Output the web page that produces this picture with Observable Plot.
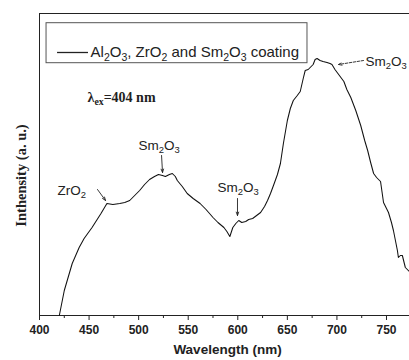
<!DOCTYPE html>
<html><head><meta charset="utf-8">
<script src="https://cdn.jsdelivr.net/npm/d3@7"></script>
<script src="https://cdn.jsdelivr.net/npm/@observablehq/plot@0.6"></script>
<style>
body{margin:0;background:#fff}
svg{display:block}
</style>
</head><body><div id="chart"></div>
<script>
// Spectrum, intensity in arbitrary units
const wavelength = [420,425,433,440,445,453,462,468,474,481,486,491,496,501,506,511,516,520,524,527,531,534,537,539,544,549,555,562,568,575,580,586,589,592,595,598,601,604,608,611,615,619,623,627,630,633,636,640,643,646,650,653,656,660,663,666,668,671,673,676,678,680,683,686,690,693,695,698,701,704,707,710,714,719,724,728,731,734,737,740,744,747,750,752,755,757,759,761,762,764,766,768,769,771,773];
const intensity  = [0,25,52,68,77,88,102,112,111,112,113,115,120,125,131,136,139,141,140,139,141,142,139,135,129,122,117,112,106,98,93,88,84,79,88,92,95,93,94,96,97,100,103,109,115,122,130,141,152,172,195,207,215,220,224,237,245,246,248,251,256,257,255,254,253,252,251,246,242,238,234,226,218,205,190,175,165,153,142,138,134,113,107,103,93,85,75,65,58,60,60,52,48,46,44];

const majorTicks = [400,450,500,550,600,650,700,750];
const minorTicks = [425,475,525,575,625,675,725];

const seriesLabel = "Al_2O_3, ZrO_2 and Sm_2O_3 coating";
const excitationLabel = "λ_ex=404 nm";
const xLabel = "Wavelength (nm)";
const yLabel = "Inthensity (a. u.)";

const annoText  = ["ZrO_2", "Sm_2O_3", "Sm_2O_3", "Sm_2O_3"];
const annoX     = [418.2, 499.9, 579.5, 728.8];
const annoY     = [125, 170, 128, 254];
const arrowX1   = [458.5, 523.1, 599.7, 726.8];
const arrowY1   = [126, 160, 117, 255];
const arrowX2   = [466.6, 524.1, 599.7, 701.6];
const arrowY2   = [115, 143, 100, 251];
const arrowDash = [false, false, false, true];

const spectrum = wavelength.map((w, i) => ({w, v: intensity[i]}));
const annos = annoText.map((t, i) => ({t, x: annoX[i], y: annoY[i]}));
const arrows = arrowX1.map((x1, i) => ({x1, y1: arrowY1[i], x2: arrowX2[i], y2: arrowY2[i], dash: arrowDash[i]}));

const SANS = "'Liberation Sans', Arial, sans-serif";
const SERIF = "'Liberation Serif', 'Times New Roman', serif";
const INK = "#222";

const chart = Plot.plot({
  width: 409,
  height: 360,
  marginLeft: 39,
  marginRight: 0,
  marginTop: 13,
  marginBottom: 45,
  style: {fontFamily: SANS, background: "#fff", color: INK},
  x: {domain: [400, 773.2]},
  y: {domain: [0, 302], axis: null},
  marks: [
    Plot.axisX({ticks: majorTicks, tickSize: 5, tickPadding: 5, fontSize: 12, fontWeight: "bold", label: null, stroke: INK, fill: INK, strokeWidth: 1}),
    Plot.axisX({ticks: minorTicks, tickSize: 3, text: null, label: null, stroke: INK, strokeWidth: 1}),
    Plot.ruleX([400], {stroke: INK, strokeWidth: 1}),
    Plot.ruleY([0], {stroke: INK, strokeWidth: 1}),
    Plot.ruleY([302], {stroke: INK, strokeWidth: 1}),
    // legend box
    Plot.rect([{}], {x1: () => 407.1, x2: () => 670.3, y1: () => 252.3, y2: () => 292.3, fill: "none", stroke: "#555", strokeWidth: 1}),
    Plot.ruleY([{}], {y: () => 263, x1: () => 418.2, x2: () => 449.4, stroke: INK, strokeWidth: 1.3}),
    Plot.text([seriesLabel], {x: () => 451.5, y: () => 263, textAnchor: "start", fontSize: 15, fill: INK}),
    // data line
    Plot.line(spectrum, {x: "w", y: "v", stroke: "#111", strokeWidth: 1.05}),
    // annotations
    Plot.text(annos, {x: "x", y: "y", text: "t", textAnchor: "start", fontSize: 13.5, fill: INK}),
    Plot.arrow(arrows.filter(d => !d.dash), {x1: "x1", y1: "y1", x2: "x2", y2: "y2", stroke: INK, strokeWidth: 0.9, headLength: 6, headAngle: 40}),
    Plot.arrow(arrows.filter(d => d.dash), {x1: "x1", y1: "y1", x2: "x2", y2: "y2", stroke: INK, strokeWidth: 0.9, headLength: 6, headAngle: 40, strokeDasharray: "2.5,1.5"}),
    Plot.text([excitationLabel], {x: () => 448.4, y: () => 218, textAnchor: "start", fontSize: 14, fontWeight: "bold", fontFamily: SERIF, fill: INK}),
    // axis titles
    Plot.text([xLabel], {frameAnchor: "bottom", dy: 38, dx: 3, fontSize: 13.5, fontWeight: "bold", fill: INK}),
    Plot.text([yLabel], {x: () => 400, y: () => 140, dx: -18, rotate: -90, fontSize: 14.5, fontWeight: "bold", fontFamily: SERIF, fill: INK})
  ]
});

// convert "_d" markers into subscripts
chart.querySelectorAll("text").forEach(el => {
  const s = el.textContent;
  if (!s.includes("_")) return;
  el.textContent = "";
  const parts = s.split(/(_\d+|_ex)/).filter(p => p.length);
  const NS = "http://www.w3.org/2000/svg";
  let shifted = false;
  parts.forEach(p => {
    const t = document.createElementNS(NS, "tspan");
    if (p.startsWith("_")) {
      t.textContent = p.slice(1);
      t.setAttribute("font-size", "70%");
      t.setAttribute("dy", "0.32em");
      shifted = true;
    } else {
      t.textContent = p;
      if (shifted) { t.setAttribute("dy", "-0.224em"); shifted = false; }
    }
    el.appendChild(t);
  });
});

document.getElementById("chart").appendChild(chart);
</script>
</body></html>
